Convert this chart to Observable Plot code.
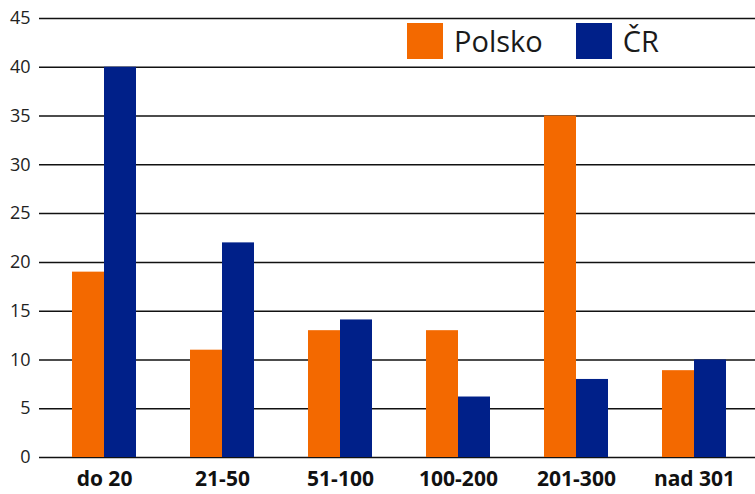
<!DOCTYPE html>
<html>
<head>
<meta charset="utf-8">
<script src="https://cdn.jsdelivr.net/npm/d3@7"></script>
<script src="https://cdn.jsdelivr.net/npm/@observablehq/plot@0.6"></script>
<style>
  body { margin: 0; background: #fff; }
  #wrap { position: relative; width: 755px; height: 494px; overflow: hidden; }
  #legend { position: absolute; left: 407px; top: 23px; display: flex; align-items: center;
    font-family: "Open Sans", sans-serif; font-size: 29px; color: #1a1a1a; }
  .sw { width: 36px; height: 36px; display: inline-block; }
  .lab { margin-left: 11px; margin-right: 33px; line-height: 36px; }
</style>
</head>
<body>
<div id="wrap">
  <div id="chart"></div>
  <div id="legend"></div>
</div>
<script>
const categories = ["do 20", "21-50", "51-100", "100-200", "201-300", "nad 301"];
const seriesNames = ["Polsko", "ČR"];
const polsko = [19, 11, 13, 13, 35, 8.9];
const cr = [40, 22, 14.1, 6.2, 8, 10];
const colors = ["#f36900", "#002089"];
const yTicks = [0, 5, 10, 15, 20, 25, 30, 35, 40, 45];

const rowsP = categories.map((c, i) => ({cat: c, series: seriesNames[0], value: polsko[i]}));
const rowsC = categories.map((c, i) => ({cat: c, series: seriesNames[1], value: cr[i]}));

const chart = Plot.plot({
  width: 755,
  height: 494,
  marginLeft: 39,
  marginRight: -3,
  marginTop: 18,
  marginBottom: 37,
  style: {fontFamily: "Open Sans, sans-serif", background: "#fff", overflow: "hidden"},
  x: {domain: categories, paddingInner: 0.46, paddingOuter: 0.26, label: null, tickSize: 0},
  y: {domain: [0, 45], label: null},
  color: {domain: seriesNames, range: colors},
  marks: [
    Plot.ruleY(yTicks, {stroke: "#111", strokeWidth: 1.5}),
    Plot.barY(rowsP, {x: "cat", y: "value", fill: "series", insetRight: 32}),
    Plot.barY(rowsC, {x: "cat", y: "value", fill: "series", insetLeft: 32}),
    Plot.axisY({ticks: yTicks, tickSize: 0, tickPadding: 9, fontSize: 18, label: null, color: "#222"}),
    Plot.axisX({tickSize: 0, tickPadding: 14, fontSize: 21, fontWeight: "bold", label: null, color: "#111"})
  ]
});
document.getElementById("chart").appendChild(chart);

const legend = document.getElementById("legend");
seriesNames.forEach((s, i) => {
  const sw = document.createElement("span");
  sw.className = "sw";
  sw.style.background = colors[i];
  const lab = document.createElement("span");
  lab.className = "lab";
  lab.textContent = s;
  legend.appendChild(sw);
  legend.appendChild(lab);
});
</script>
</body>
</html>
